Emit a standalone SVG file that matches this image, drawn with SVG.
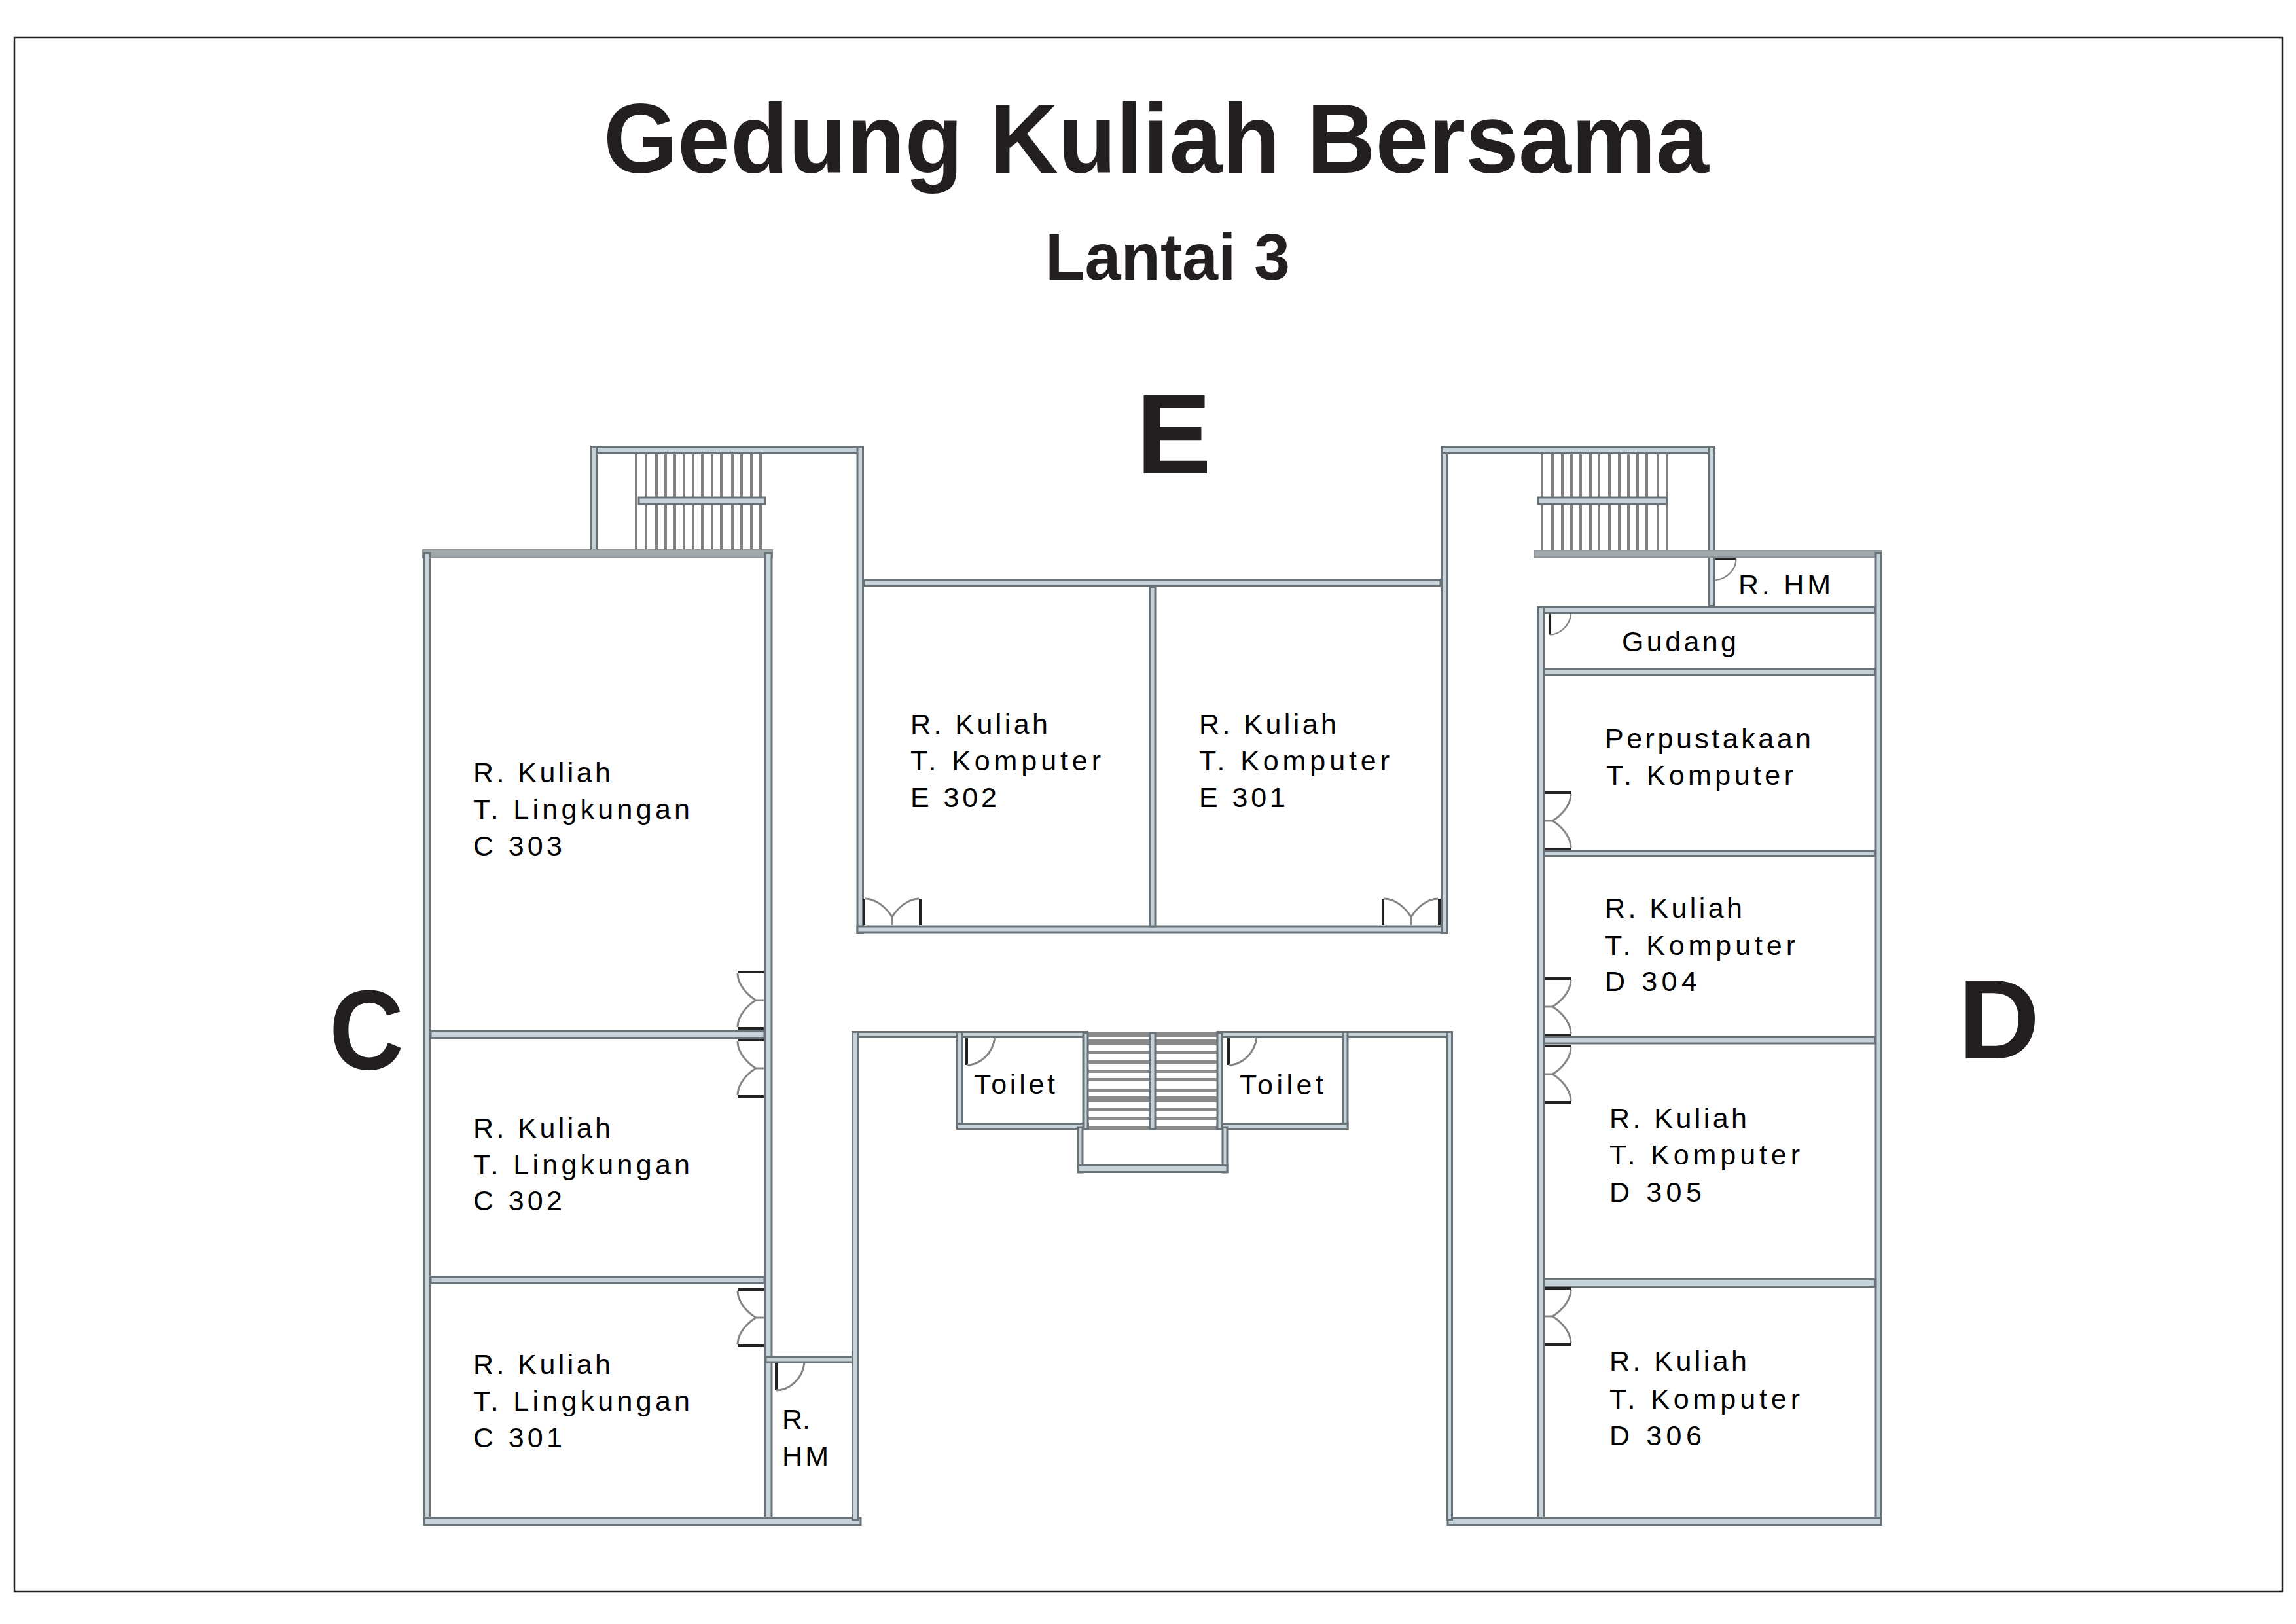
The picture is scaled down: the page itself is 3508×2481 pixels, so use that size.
<svg xmlns="http://www.w3.org/2000/svg" xmlns:xlink="http://www.w3.org/1999/xlink" width="3508" height="2481" viewBox="0 0 3508 2481">
<style>
.w{fill:#c6d3db;stroke:#697277;stroke-width:3}
.g{fill:#a0a8ac;stroke:#8d9599;stroke-width:2}
.leaf{fill:none;stroke:#222;stroke-width:4}
.arc{fill:none;stroke:#858585;stroke-width:3}
.st{stroke:#808080;stroke-width:4}
.tr{fill:#8a8a8a}
.t{font-family:"Liberation Sans",Arial,sans-serif;font-size:43px;fill:#000}
.h{font-family:"Liberation Sans",Arial,sans-serif;font-weight:700;fill:#231f20}
</style>
<defs>
<g id="dd"><path class="leaf" d="M0 0H-40M0 86H-40"/><path class="arc" d="M-40 2C-40 18-27 34-12 43H0M-40 84C-40 68-27 52-12 43"/></g>
<g id="sd"><path class="leaf" d="M0 0V42"/><path class="arc" d="M0 42C20 42 40 25 43 0"/></g>
</defs>
<rect width="3508" height="2481" fill="#fff"/>
<rect x="22" y="57" width="3465" height="2374" fill="none" stroke="#231f20" stroke-width="2.500"/>
<g id="title">
<text class="h" x="922" y="264" font-size="150" textLength="1689" lengthAdjust="spacingAndGlyphs">Gedung Kuliah Bersama</text>
<text class="h" x="1597" y="427" font-size="100" textLength="374" lengthAdjust="spacingAndGlyphs">Lantai 3</text>
<text class="h" x="1736" y="723" font-size="172">E</text>
<text class="h" x="503" y="1633" font-size="172" textLength="114" lengthAdjust="spacingAndGlyphs">C</text>
<text class="h" x="2992" y="1617" font-size="172">D</text>
</g>
<g id="stairs">
<path class="st" d="M972 694V840M987 694V840M1003 694V840M1017 694V840M1031 694V840M1045 694V840M1059 694V840M1073 694V840M1088 694V840M1102 694V840M1119 694V840M1133 694V840M1148 694V840M1162 694V840"/>
<rect class="w" x="976" y="760" width="193" height="10"/>
<path class="st" d="M2356 694V840M2372 694V840M2387 694V840M2401 694V840M2415 694V840M2430 694V840M2443 694V840M2459 694V840M2474 694V840M2488 694V840M2502 694V840M2516 694V840M2533 694V840M2547 694V840"/>
<rect class="w" x="2350" y="760" width="197" height="10"/>
<path class="tr" d="M1663 1576h196v8h-196zM1663 1588h196v9h-196zM1663 1605h196v5h-196zM1663 1620h196v5h-196zM1663 1634h196v5h-196zM1663 1647h196v5h-196zM1663 1663h196v5h-196zM1663 1675h196v9h-196zM1663 1693h196v5h-196zM1663 1706h196v5h-196zM1663 1720h196v6h-196z"/>
<rect class="w" x="1757" y="1578" width="8" height="147"/>
</g>
<g id="walls">
<rect class="w" x="903.500" y="682.500" width="415" height="10"/>
<rect class="w" x="903.500" y="682.500" width="8" height="158"/>
<rect class="w" x="1310" y="682.500" width="8.500" height="743"/>
<rect class="w" x="1320" y="885.500" width="881" height="10"/>
<rect class="w" x="1310" y="1415" width="900.500" height="10"/>
<rect class="w" x="1757" y="897" width="8" height="518"/>
<rect class="w" x="2202.500" y="682.500" width="9" height="743"/>
<rect class="w" x="2202.500" y="682.500" width="417" height="10"/>
<rect class="w" x="2611" y="682.500" width="8" height="244"/>
<rect class="g" x="646" y="840" width="534" height="12"/>
<rect class="w" x="648" y="845" width="9" height="1478"/>
<rect class="w" x="1169" y="845" width="10" height="1478"/>
<rect class="w" x="658" y="1575.500" width="510" height="10"/>
<rect class="w" x="658" y="1950.500" width="510" height="10"/>
<rect class="w" x="1170" y="2073" width="138" height="8"/>
<rect class="w" x="648" y="2318.500" width="667" height="11"/>
<rect class="g" x="2344" y="841" width="530" height="10"/>
<rect class="w" x="2350" y="927.500" width="515" height="9"/>
<rect class="w" x="2350" y="1021.500" width="515" height="9"/>
<rect class="w" x="2350" y="1299.500" width="515" height="8"/>
<rect class="w" x="2350" y="1584" width="515" height="10"/>
<rect class="w" x="2350" y="1954.500" width="515" height="11"/>
<rect class="w" x="2349.500" y="927.500" width="9" height="1396"/>
<rect class="w" x="2866" y="845" width="8" height="1478"/>
<rect class="w" x="2212" y="2318.500" width="662" height="11"/>
<rect class="w" x="1302.500" y="1576.500" width="359" height="8"/>
<rect class="w" x="1860" y="1576.500" width="358" height="8"/>
<rect class="w" x="1302.500" y="1576.500" width="8" height="745"/>
<rect class="w" x="2211" y="1576.500" width="7.500" height="745"/>
<rect class="w" x="1462.500" y="1576.500" width="8" height="148"/>
<rect class="w" x="2052" y="1576.500" width="7" height="148"/>
<rect class="w" x="1462.500" y="1716.500" width="200" height="8"/>
<rect class="w" x="1860" y="1716.500" width="199" height="8"/>
<rect class="w" x="1655" y="1578" width="7" height="147"/>
<rect class="w" x="1860" y="1578" width="7" height="147"/>
<rect class="w" x="1647" y="1722" width="7" height="69"/>
<rect class="w" x="1868" y="1722" width="7" height="69"/>
<rect class="w" x="1647" y="1780.500" width="228" height="10"/>
</g>
<g id="doors">
<use xlink:href="#dd" transform="translate(1167 1485)"/>
<use xlink:href="#dd" transform="translate(1167 1589)"/>
<use xlink:href="#dd" transform="translate(1167 1970)"/>
<use xlink:href="#dd" transform="matrix(0 1 1 0 1320 1413)"/>
<use xlink:href="#dd" transform="matrix(0 1 1 0 2113 1413)"/>
<use xlink:href="#dd" transform="translate(2360 1211) scale(-1 1)"/>
<use xlink:href="#dd" transform="translate(2360 1495) scale(-1 1)"/>
<use xlink:href="#dd" transform="translate(2360 1598) scale(-1 1)"/>
<use xlink:href="#dd" transform="translate(2360 1968) scale(-1 1)"/>
<use xlink:href="#sd" transform="translate(1186 2082)"/>
<use xlink:href="#sd" transform="translate(1477 1585)"/>
<use xlink:href="#sd" transform="translate(1877 1585)"/>
<use xlink:href="#sd" transform="translate(2368 938) scale(.75)"/>
<use xlink:href="#sd" transform="matrix(0 .75 .75 0 2621 854)"/>
</g>
<g id="labels">
<g id="c303"><text class="t" x="723" y="1195" textLength="210">R. Kuliah</text><text class="t" x="723" y="1251" textLength="331">T. Lingkungan</text><text class="t" x="723" y="1307" textLength="136">C 303</text></g>
<g id="c302"><text class="t" x="723" y="1738" textLength="210">R. Kuliah</text><text class="t" x="723" y="1794" textLength="331">T. Lingkungan</text><text class="t" x="723" y="1849" textLength="136">C 302</text></g>
<g id="c301"><text class="t" x="723" y="2099" textLength="210">R. Kuliah</text><text class="t" x="723" y="2155" textLength="331">T. Lingkungan</text><text class="t" x="723" y="2211" textLength="136">C 301</text></g>
<g id="e302"><text class="t" x="1391" y="1121" textLength="210">R. Kuliah</text><text class="t" x="1391" y="1177" textLength="291">T. Komputer</text><text class="t" x="1391" y="1233" textLength="132">E 302</text></g>
<g id="e301"><text class="t" x="1832" y="1121" textLength="210">R. Kuliah</text><text class="t" x="1832" y="1177" textLength="291">T. Komputer</text><text class="t" x="1832" y="1233" textLength="132">E 301</text></g>
<g id="hm-d"><text class="t" x="2656" y="908" textLength="141">R. HM</text></g>
<g id="gudang"><text class="t" x="2478" y="995" textLength="175">Gudang</text></g>
<g id="perpus"><text class="t" x="2452" y="1143" textLength="315">Perpustakaan</text><text class="t" x="2454" y="1199" textLength="286">T. Komputer</text></g>
<g id="d304"><text class="t" x="2452" y="1402" textLength="210">R. Kuliah</text><text class="t" x="2452" y="1459" textLength="291">T. Komputer</text><text class="t" x="2452" y="1514" textLength="141">D 304</text></g>
<g id="d305"><text class="t" x="2459" y="1723" textLength="210">R. Kuliah</text><text class="t" x="2459" y="1779" textLength="291">T. Komputer</text><text class="t" x="2459" y="1836" textLength="141">D 305</text></g>
<g id="d306"><text class="t" x="2459" y="2094" textLength="210">R. Kuliah</text><text class="t" x="2459" y="2152" textLength="291">T. Komputer</text><text class="t" x="2459" y="2208" textLength="141">D 306</text></g>
<g id="hm-c"><text class="t" x="1195" y="2183" textLength="43">R.</text><text class="t" x="1195" y="2239" textLength="71">HM</text></g>
<g id="toilet-l"><text class="t" x="1488" y="1671" textLength="124">Toilet</text></g>
<g id="toilet-r"><text class="t" x="1894" y="1672" textLength="128">Toilet</text></g>
</g>
</svg>
